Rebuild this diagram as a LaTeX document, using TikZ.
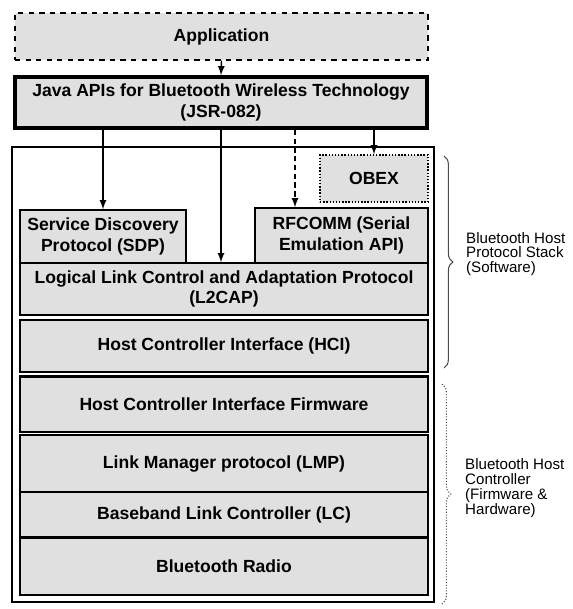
\documentclass[tikz,border=0pt]{standalone}
\usepackage{fontspec}
\setmainfont{Liberation Sans}
\usetikzlibrary{decorations.pathreplacing}
\tikzset{
	layerstyle/.style={rectangle,draw=black,fill=black!12,line width=0.8pt,inner sep=0pt,font=\fontsize{10}{11.5}\selectfont\bfseries,align=center},
	appstyle/.style={layerstyle,dashed},
	apistyle/.style={layerstyle,line width=2pt},
	obexstyle/.style={layerstyle,densely dotted},
	stackstyle/.style={rectangle,draw=black,line width=1pt,inner sep=0pt},
	bracestyle/.style={decorate,decoration={brace,amplitude=5pt},line width=0.6pt,draw=black!70},
	labelstyle/.style={anchor=west,align=left,font=\fontsize{8.6}{8.4}\selectfont},
	callstyle/.style={-latex,line width=0.8pt}
}
\begin{document}
\begin{tikzpicture}[x=0.02cm,y=-0.02cm]
		\useasboundingbox (0,0) rectangle (572,609);
		\node[stackstyle,minimum width=8.44cm,minimum height=9.1cm] (stack) at (223,374.5) {};
		\node[appstyle,minimum width=8.26cm,minimum height=0.94cm] (app) at (221.5,36.5) {Application};
		\node[apistyle,minimum width=8.24cm,minimum height=1.02cm] (java) at (221,102.5) {Java APIs for Bluetooth Wireless Technology\\(JSR-082)};
		\node[obexstyle,minimum width=2.16cm,minimum height=0.94cm] (obex) at (374,178.5) {OBEX};
		\node[layerstyle,minimum width=3.32cm,minimum height=1.06cm] (sdp) at (103,236.5) {Service Discovery\\Protocol (SDP)};
		\node[layerstyle,minimum width=3.46cm,minimum height=1.1cm] (rfcomm) at (341.5,235.5) {RFCOMM (Serial\\Emulation API)};
		\node[layerstyle,minimum width=8.16cm,minimum height=1.04cm] (l2cap) at (224,289) {Logical Link Control and Adaptation Protocol\\(L2CAP)};
		\node[layerstyle,minimum width=8.16cm,minimum height=1.04cm] (hci) at (224,346) {Host Controller Interface (HCI)};
		\node[layerstyle,minimum width=8.16cm,minimum height=1.1cm] (hcifw) at (224,404.5) {Host Controller Interface Firmware};
		\node[layerstyle,minimum width=8.16cm,minimum height=1.14cm] (lmp) at (224,463.5) {Link Manager protocol (LMP)};
		\node[layerstyle,minimum width=8.16cm,minimum height=0.9cm] (lc) at (224,514.5) {Baseband Link Controller (LC)};
		\node[layerstyle,minimum width=8.16cm,minimum height=1.14cm] (radio) at (224,566.5) {Bluetooth Radio};
		\draw[line width=2pt] (hcifw.north west)--(hcifw.north east);
		\coordinate (rfin) at (rfcomm.north -| 295,0);
		\coordinate (hosttop) at (444,156);
		\coordinate (hostbot) at (444,368);
		\coordinate (ctrltop) at (442,384);
		\coordinate (ctrlbot) at (442,604);
		\node[labelstyle] (hostlbl) at (460,254) {Bluetooth Host\\Protocol Stack\\(Software)};
		\node[labelstyle] (ctrllbl) at (459,488) {Bluetooth Host\\Controller\\(Firmware \&\\Hardware)};
		\draw[callstyle] (app.south)--(java.north);
		\draw[callstyle] (java.south -| sdp.north)--(sdp.north);
		\draw[callstyle] (java.south)--(java.south |- l2cap.north);
		\draw[callstyle,densely dashed] (java.south -| rfin)--(rfin);
		\draw[callstyle] (java.south -| obex.north)--(obex.north);
		\draw[bracestyle] (hosttop)--(hostbot);
		\draw[bracestyle,densely dotted] (ctrltop)--(ctrlbot);
		\end{tikzpicture}
\end{document}
